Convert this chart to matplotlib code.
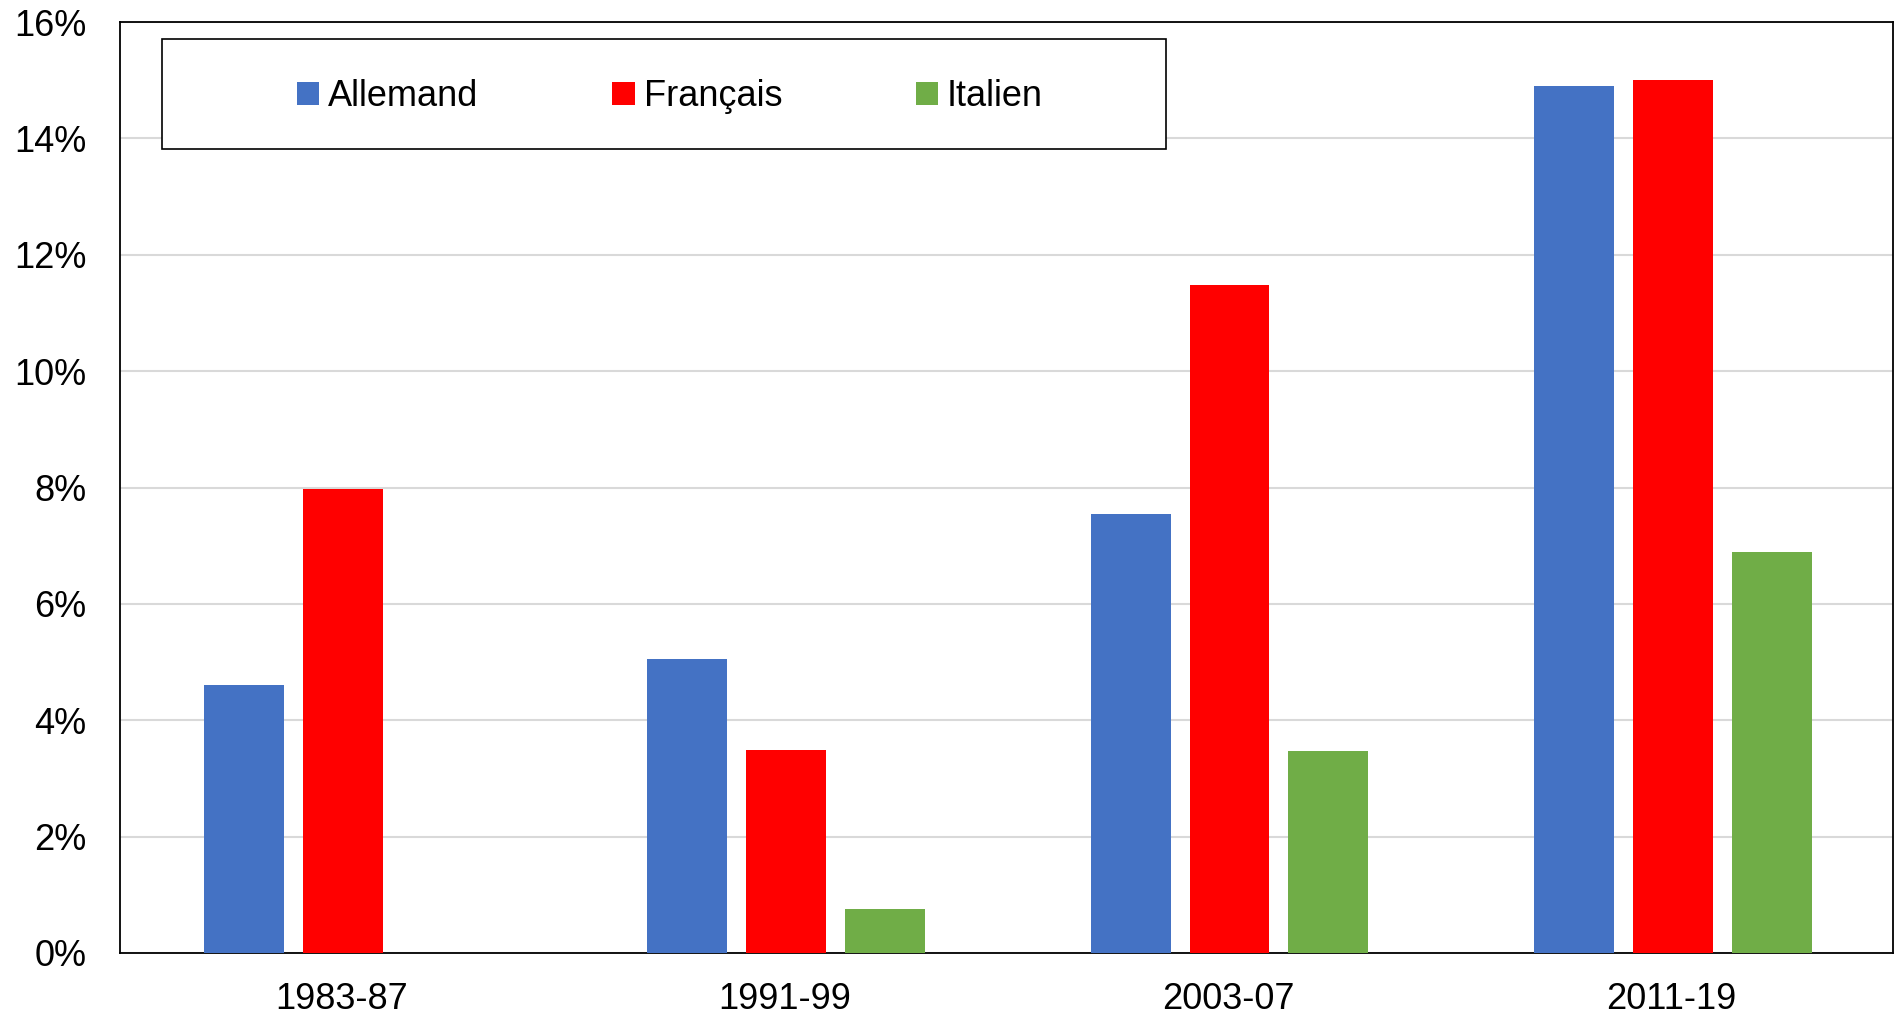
import numpy as np
import matplotlib.pyplot as plt
from matplotlib.patches import Rectangle
from matplotlib.ticker import FuncFormatter

plt.rcParams['font.family'] = ['Liberation Sans', 'DejaVu Sans']

periods = ["1983-87", "1991-99", "2003-07", "2011-19"]
allemand = [4.6, 5.05, 7.55, 14.9]
francais = [7.97, 3.49, 11.48, 15.01]
italien = [np.nan, 0.75, 3.47, 6.9]

series = [("Allemand", allemand, "#4472C4"),
          ("Français", francais, "#FF0000"),
          ("Italien", italien, "#70AD47")]

fig = plt.figure(figsize=(18.98, 10.15), dpi=100)
ax = fig.add_axes([0.0632, 0.0611, 0.9342, 0.9172])

x = np.arange(len(periods))
width = 0.18
step = 0.223
for i, (name, vals, col) in enumerate(series):
    ax.bar(x + (i - 1) * step + 0.003, vals, width, color=col, label=name, zorder=3)

ax.set_xlim(-0.5, len(periods) - 0.5)
ax.set_ylim(0, 16)
ax.set_yticks(np.arange(0, 17, 2))
ax.yaxis.set_major_formatter(FuncFormatter(lambda v, p: f"{v:.0f}%"))
ax.set_xticks(x)
ax.set_xticklabels(periods)
ax.tick_params(axis='both', length=0, labelsize=26)
ax.tick_params(axis='y', pad=24)
ax.tick_params(axis='x', pad=21)
ax.grid(axis='y', color='#d9d9d9', lw=1.5, zorder=0)
for s in ax.spines.values():
    s.set_color('black')
    s.set_linewidth(1.3)

# legend box drawn separately so the padding can be wider than tall
fig.patches.append(Rectangle((0.0854, 0.853), 0.5289, 0.1086, transform=fig.transFigure,
                             fill=True, facecolor='white', edgecolor='black', lw=1.2, zorder=5))
leg = fig.legend(loc='center', bbox_to_anchor=(0.353, 0.9045), ncol=3, frameon=False,
                 fontsize=26, handlelength=0.62, handleheight=0.62, handletextpad=0.25,
                 columnspacing=3.7)
leg.set_zorder(6)

fig.savefig("out.png", dpi=100)
